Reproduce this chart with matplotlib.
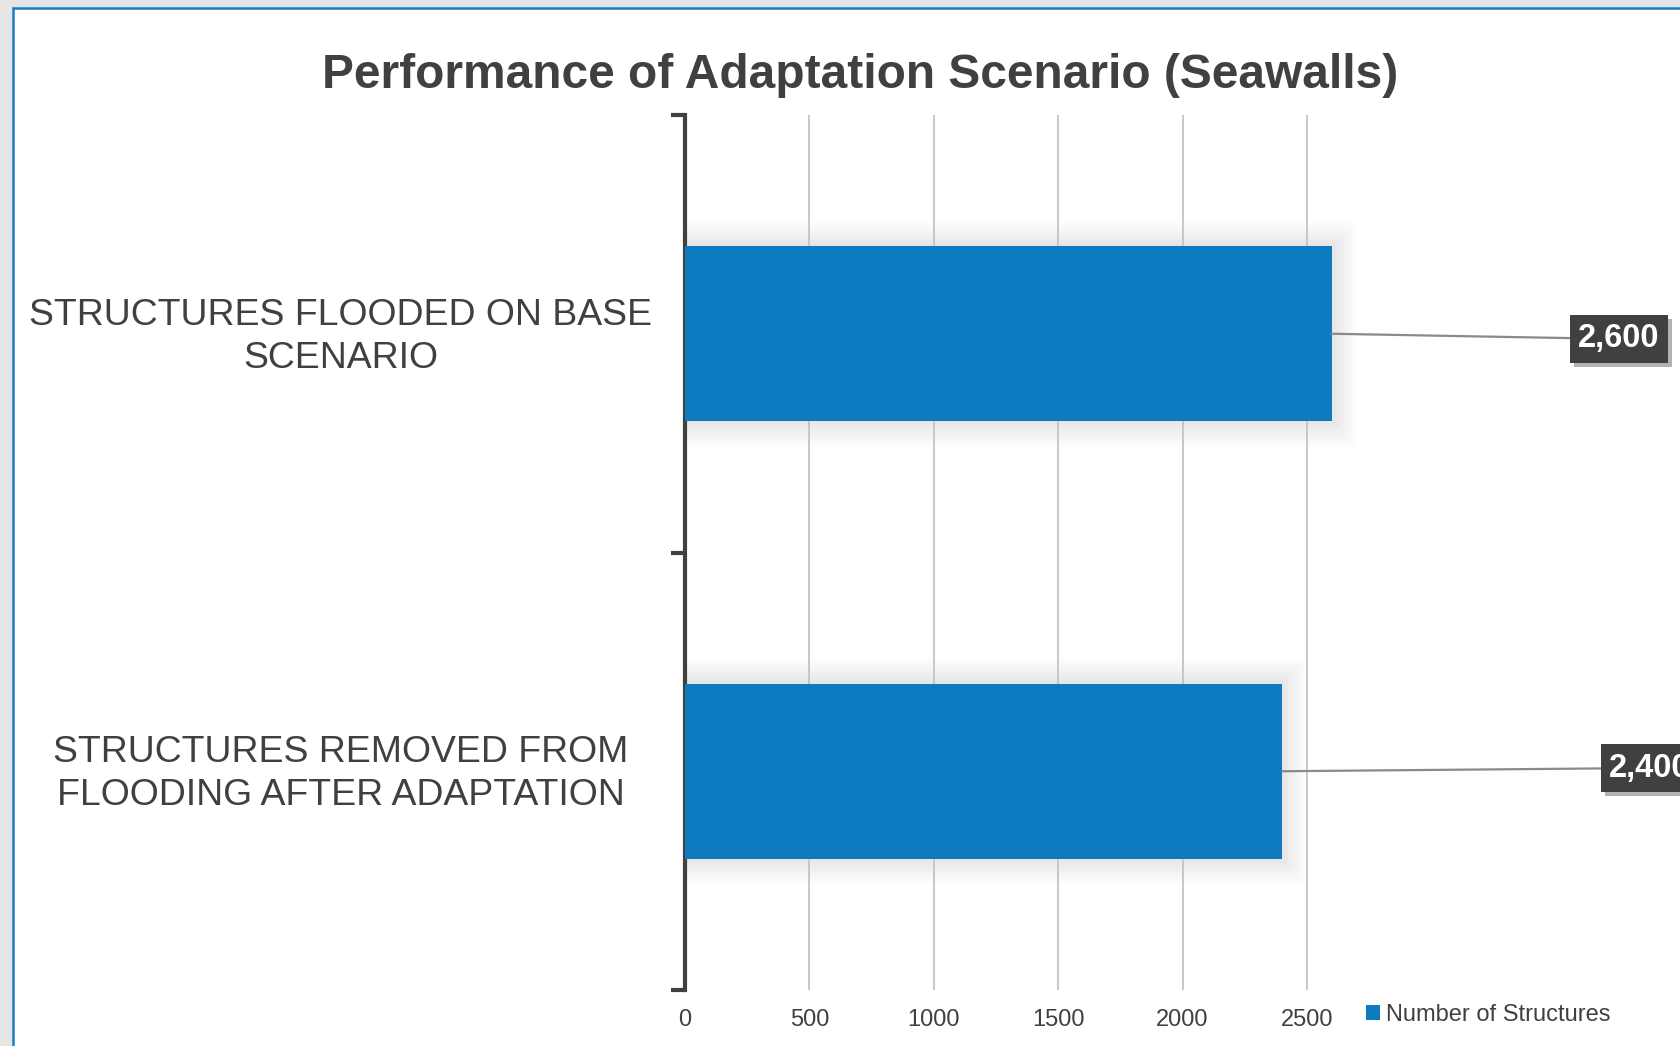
import matplotlib
matplotlib.use("Agg")
import matplotlib.pyplot as plt
import matplotlib.patheffects as pe
import matplotlib.transforms as mtransforms
from matplotlib.patches import Rectangle
import numpy as np

plt.rcParams['font.family'] = ['Liberation Sans', 'DejaVu Sans']

# data
categories = ["STRUCTURES FLOODED ON BASE\nSCENARIO",
              "STRUCTURES REMOVED FROM\nFLOODING AFTER ADAPTATION"]
values = [2600, 2400]
value_labels = ["2,600", "2,400"]
series_name = "Number of Structures"
x_ticks = [0, 500, 1000, 1500, 2000, 2500]

blue = '#0e7bc1'
dark = '#404040'

W, H = 1680, 1046
fig = plt.figure(figsize=(W / 100, H / 100), dpi=100, facecolor='#e6e6e6')

# white chart area with blue edge
fig.patches.append(Rectangle((13 / W, -0.1), 1.2, 1 - 8 / H + 0.1,
                             transform=fig.transFigure, fc='white',
                             ec='#1a7dc4', lw=1.8, zorder=-5))

ax = fig.add_axes([685 / W, 1 - 990 / H, 2750 * 0.2488 / W, 875 / H])
ax.set_facecolor('none')
ax.set_zorder(2)

ypos = np.arange(len(values))

# soft shadow around the bars
for k in range(1, 9):
    ax.barh(ypos, np.array(values) + k * 12, height=0.4 + k * 0.014,
            color='black', alpha=0.012, lw=0, zorder=1)

bars = ax.barh(ypos, values, height=0.4, color=blue, zorder=3, label=series_name)

ax.set_xlim(0, 2750)
ax.set_ylim(1.5, -0.5)

ax.set_xticks(x_ticks)
ax.set_xticklabels([str(t) for t in x_ticks])
ax.tick_params(axis='x', length=0, pad=14, labelsize=17, labelcolor=dark)
ax.grid(axis='x', color='#c4c4c4', lw=1.3, zorder=0)
ax.xaxis.get_gridlines()[0].set_visible(False)

ax.set_yticks(ypos)
ax.set_yticklabels(categories, ha='center', multialignment='center',
                   linespacing=1.3)
ax.tick_params(axis='y', which='major', length=0, pad=248, labelsize=26.9,
               labelcolor=dark)
# nudge the category labels up a little
shift = mtransforms.ScaledTranslation(0, 5 / 100, fig.dpi_scale_trans)
for lab in ax.get_yticklabels():
    lab.set_transform(lab.get_transform() + shift)
ax.set_yticks([-0.5, 0.5, 1.5], minor=True)
ax.tick_params(axis='y', which='minor', length=10, width=3, color=dark,
               direction='out')

for s in ['top', 'right', 'bottom']:
    ax.spines[s].set_visible(False)
ax.spines['left'].set_linewidth(3)
ax.spines['left'].set_color(dark)

# data labels with leader lines
label_pos = [(1619 / W, 1 - 339 / H), (1650 / W, 1 - 768 / H)]
for i, (v, txt) in enumerate(zip(values, value_labels)):
    an = ax.annotate(txt, xy=(v, i), xytext=label_pos[i],
                     textcoords='figure fraction', ha='center', va='center',
                     fontsize=23.5, fontweight='bold', color='white',
                     bbox=dict(boxstyle='square,pad=0.26', fc=dark, ec='none'),
                     arrowprops=dict(arrowstyle='-', color='#8a8a8a', lw=1.6,
                                     shrinkA=0, shrinkB=0),
                     annotation_clip=False, zorder=5)
    an.get_bbox_patch().set_path_effects(
        [pe.withSimplePatchShadow(offset=(3, -3), shadow_rgbFace='black', alpha=0.3)])

fig.text(860 / W, 1 - 76 / H, "Performance of Adaptation Scenario (Seawalls)",
         ha='center', va='center', fontsize=34.5, fontweight='bold', color=dark)

ax.legend(handles=[bars], loc='center left',
          bbox_to_anchor=(1366 / W, 1 - 1015 / H), bbox_transform=fig.transFigure,
          frameon=False, fontsize=17, labelcolor=dark, handlelength=0.6,
          handleheight=0.6, handletextpad=0.25, borderpad=0, borderaxespad=0)

fig.savefig('out.png', dpi=100, facecolor=fig.get_facecolor())
